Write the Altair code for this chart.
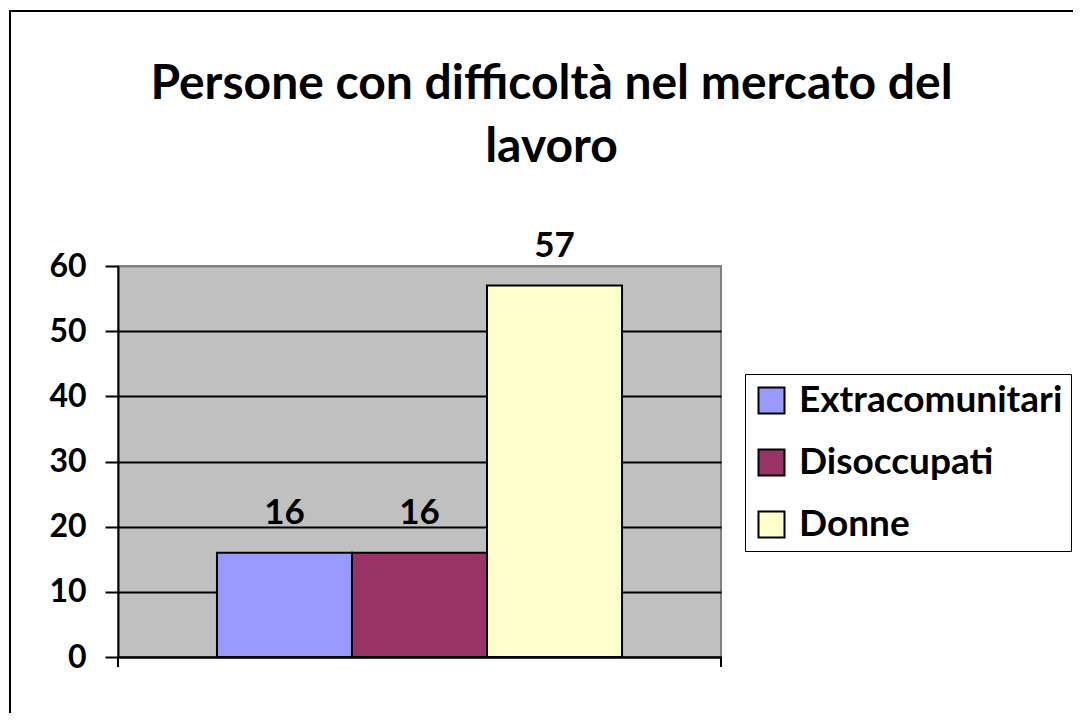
import altair as alt
import pandas as pd

series = ["Extracomunitari", "Disoccupati", "Donne"]
values = [16, 16, 57]
colors = ["#9999FF", "#993366", "#FFFFCC"]
y_ticks = [0, 10, 20, 30, 40, 50, 60]
title_lines = ["Persone con difficoltà nel mercato del", "lavoro"]

FONT = "Lato"
W, H = 603, 391

df = pd.DataFrame({"serie": series, "valore": values})

x_enc = alt.X(
    "serie:N",
    sort=series,
    scale=alt.Scale(paddingInner=0, paddingOuter=0.733),
    axis=alt.Axis(title=None, labels=False, ticks=False, grid=False,
                  domainColor="black", domainWidth=2),
)
y_enc = alt.Y(
    "valore:Q",
    scale=alt.Scale(domain=[0, 60]),
    axis=alt.Axis(
        values=y_ticks, title=None, grid=True,
        gridColor={"condition": {"test": "datum.value === 60", "value": "#808080"}, "value": "black"},
        gridWidth=2, domainColor="black", domainWidth=2,
        tickColor="black", tickWidth=2, tickSize=13,
        labelFont=FONT, labelFontSize=32, labelFontWeight="bold", labelColor="black",
        labelPadding=19,
    ),
)

base = alt.Chart(df)

bars = base.mark_bar(stroke="black", strokeWidth=2).encode(
    x=x_enc,
    y=y_enc,
    fill=alt.Fill(
        "serie:N", sort=series,
        scale=alt.Scale(domain=series, range=colors),
        legend=alt.Legend(
            title=None, orient="none", legendX=627, legendY=108,
            symbolType="square", symbolSize=676, symbolStrokeColor="black",
            symbolStrokeWidth=2, labelFont=FONT, labelFontSize=37,
            labelFontWeight="bold", labelColor="black", labelOffset=9,
            rowPadding=24, padding=8, strokeColor="black", fillColor="white",
            labelLimit=400,
        ),
    ),
)

labels = base.mark_text(
    dy=-29, baseline="alphabetic", align="center", font=FONT,
    fontSize=35, fontWeight="bold", color="black",
).encode(x=alt.X("serie:N", sort=series), y="valore:Q", text="valore:Q")

one = pd.DataFrame({"k": [0]})
tick_left = alt.Chart(one).mark_rule(color="black", strokeWidth=2).encode(
    x=alt.value(0), y=alt.value(H), y2=alt.value(H + 10))
tick_right = alt.Chart(one).mark_rule(color="black", strokeWidth=2).encode(
    x=alt.value(W), y=alt.value(H), y2=alt.value(H + 10))
border_left = alt.Chart(one).mark_rule(color="black", strokeWidth=2).encode(
    x=alt.value(-108), y=alt.value(-255), y2=alt.value(H + 100))
border_top = alt.Chart(one).mark_rule(color="black", strokeWidth=2).encode(
    x=alt.value(-109), x2=alt.value(W + 400), y=alt.value(-255))

chart = alt.layer(bars, labels, tick_left, tick_right, border_left, border_top).properties(
    width=W, height=H,
    background="white",
    title=alt.TitleParams(
        text=title_lines, font=FONT, fontSize=48, fontWeight="bold", color="black",
        anchor="middle", dx=132, offset=-162, lineHeight=63,
    ),
    autosize=alt.AutoSizeParams(type="none"),
    padding={"left": 110, "top": 258, "right": 352, "bottom": 56},
).configure_view(
    fill="#C0C0C0", stroke="#808080", strokeWidth=2
)

chart.save("out.html", embed_options={"renderer": "svg", "actions": False})
